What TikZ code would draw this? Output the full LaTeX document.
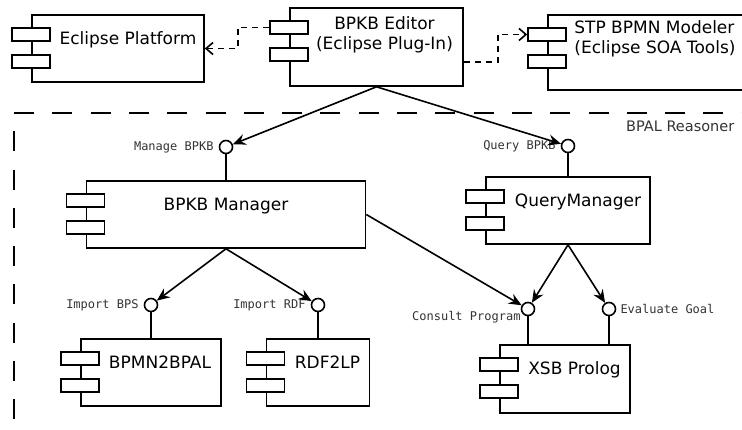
\documentclass[tikz,border=0pt]{standalone}
\usepackage{fontspec}
\setmainfont{DejaVu Sans}
\setmonofont{DejaVu Sans Mono}
\usepackage{tikz}
\usetikzlibrary{arrows.meta, positioning, calc}

% the two small tabs on the left side of a component
\newcommand{\comptabs}[1]{%
  \node[tab, anchor=north west] (#1-t1) at ($(#1.north west)+(-20pt,-13pt)$) {};
  \node[tab, anchor=north west] (#1-t2) at ($(#1.north west)+(-20pt,-40pt)$) {};
}

\begin{document}
\begin{tikzpicture}[
    x=1pt, y=-1pt,
    font=\fontsize{17}{20}\selectfont,
    comp/.style={draw, fill=white, line width=1.6pt, minimum height=67pt, inner sep=0pt},
    ctext/.style={font=\fontsize{17}{20}\selectfont, align=center, inner sep=0pt, text height=12.4pt, text depth=4pt, anchor=center},
    tab/.style={draw, fill=white, line width=1.6pt, minimum width=38pt, minimum height=13pt, inner sep=0pt},
    iface/.style={circle, draw, fill=white, line width=1.6pt, minimum size=13pt, inner sep=0pt},
    lbl/.style={font=\fontsize{12}{14}\selectfont\ttfamily, text=black!80, inner sep=0pt},
    link/.style={line width=1.6pt},
    line/.style={-{Stealth[length=13pt,width=11pt,inset=4.5pt]}, line width=1.6pt},
    dep/.style={-{Straight Barb[length=7pt,width=12pt]}, line width=1.6pt, dash pattern=on 6pt off 5pt},
    frame/.style={line width=1.6pt, dash pattern=on 20pt off 18.3pt}
]
\clip (0,0) rectangle (742,430);

\draw[frame] (14,113) -- (760,113);
\draw[frame, dash phase=20pt] (14,113) -- (14,450);
\node[font=\fontsize{14.5}{17}\selectfont, text=black!80, anchor=base west, inner sep=0pt] (reasoner) at (626,132) {BPAL Reasoner};

\node[comp, minimum width=172pt, label={[ctext, xshift=10pt, yshift=-25.8pt]north:Eclipse Platform}] (plat) at (118,48.5) {};
\node[comp, minimum width=173pt, minimum height=78pt, label={[ctext, xshift=8pt, yshift=-37.8pt]north:BPKB Editor\\(Eclipse Plug-In)}] (ed) at (376.5,47) {};
\node[comp, minimum width=200pt, minimum height=75pt, label={[ctext, align=left, anchor=west, xshift=27pt, yshift=2.7pt]west:STP BPMN Modeler\\(Eclipse SOA Tools)}] (stp) at (648,52.5) {};

\node[comp, minimum width=279pt, label={[ctext, yshift=-25.8pt]north:BPKB Manager}] (mgr) at (226,214.5) {};
\node[comp, minimum width=164pt, label={[ctext, xshift=10pt, yshift=-25.8pt]north:QueryManager}] (qm) at (568,210.5) {};
\node[comp, minimum width=140pt, label={[ctext, xshift=9pt, yshift=-25.8pt]north:BPMN2BPAL}] (bp) at (151,372.5) {};
\node[comp, minimum width=103pt, label={[ctext, xshift=9.5pt, yshift=-25.8pt]north:RDF2LP}] (rdf) at (318,372.5) {};
\node[comp, minimum width=130pt, minimum height=68pt, label={[ctext, xshift=9.5pt, yshift=-25.8pt]north:XSB Prolog}] (xsb) at (565,379) {};

\comptabs{plat}
\comptabs{ed}
\comptabs{stp}
\comptabs{mgr}
\comptabs{qm}
\comptabs{bp}
\comptabs{rdf}
\comptabs{xsb}

\node[iface, label={[lbl, label distance=5pt]left:Manage BPKB}] (mb) at (226,147) {};
\node[iface, label={[lbl, label distance=5pt]left:Query BPKB}] (qb) at (568,146) {};
\node[iface, label={[lbl, label distance=5pt]left:Import BPS}] (ib) at (151,305) {};
\node[iface, label={[lbl, label distance=5pt]left:Import RDF}] (ir) at (318,305) {};
\node[iface, label={[lbl, anchor=east, yshift=-8pt]west:Consult Program}] (cp) at (528,309) {};
\node[iface, label={[lbl, label distance=4pt]right:Evaluate Goal}] (eg) at (609,309) {};

\draw[link] (mb) -- (mgr);
\draw[link] (qb) -- (qm);
\draw[link] (ib) -- (bp);
\draw[link] (ir) -- (rdf);
\draw[link] (cp) -- (cp |- xsb.north);
\draw[link] (eg) -- (eg |- xsb.north);

\draw[dep] (ed-t1.west) -- ++(-31pt,0) |- (plat.east);
\draw[dep] ([yshift=-15pt]ed.east) -- ++(34pt,0) |- (stp-t1.west);

\draw[line] (ed.south) -- (mb);
\draw[line] (ed.south) -- (qb);
\draw[line] (mgr.south) -- (ib);
\draw[line] (mgr.south) -- (ir);
\draw[line] (mgr.east) -- (cp);
\draw[line] (qm.south) -- (cp);
\draw[line] (qm.south) -- (eg);
\end{tikzpicture}
\end{document}
